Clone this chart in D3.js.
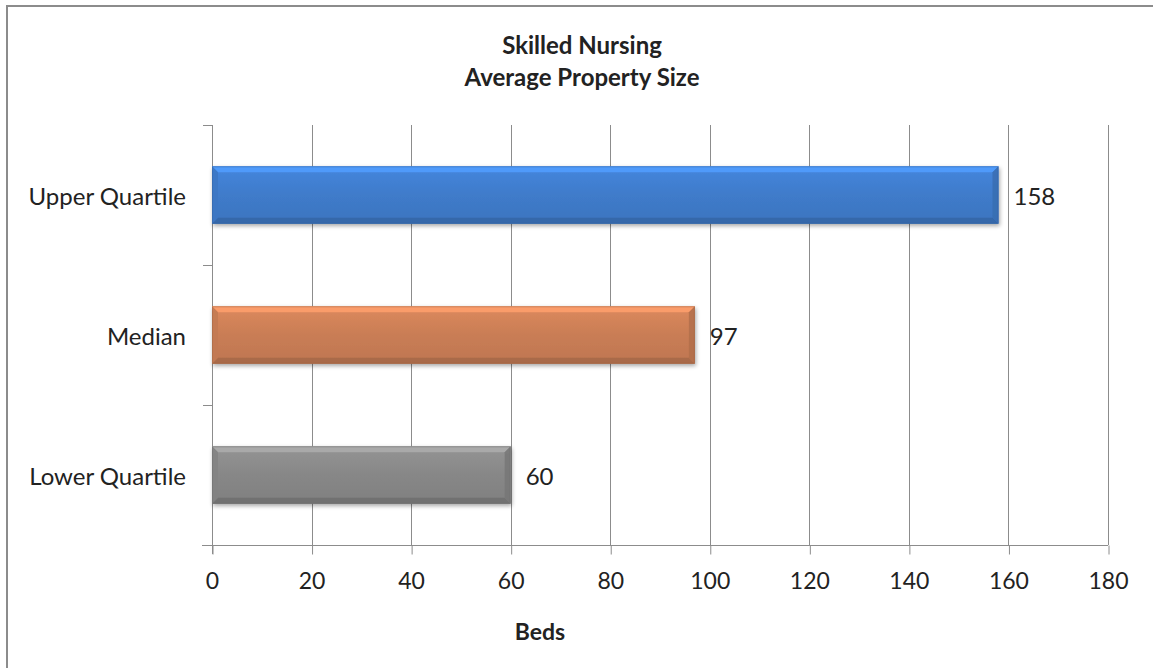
<!DOCTYPE html>
<html>
<head>
<meta charset="utf-8">
<script src="https://cdn.jsdelivr.net/npm/d3@7"></script>
<style>
  html, body { margin: 0; padding: 0; background: #fff; }
  svg { display: block; }
  text { font-family: Lato, "Open Sans", sans-serif; fill: #222; }
</style>
</head>
<body>
<svg id="chart" width="1153" height="668"></svg>
<script>
// Chart data
const categories = ["Upper Quartile", "Median", "Lower Quartile"];
const values = [158, 97, 60];
const barColors = ["#3f7bca", "#c97d55", "#878787"];
const xTicks = [0, 20, 40, 60, 80, 100, 120, 140, 160, 180];
const titleLines = ["Skilled Nursing", "Average Property Size"];
const xAxisTitle = "Beds";

const svg = d3.select("#chart");
const W = 1153, H = 668;
const plot = { left: 212, right: 1108, top: 125, bottom: 545 };

// Outer frame
svg.append("rect")
  .attr("x", 7).attr("y", 6).attr("width", W + 20).attr("height", H + 20)
  .attr("fill", "none").attr("stroke", "#8c8c8c").attr("stroke-width", 2);

const x = d3.scaleLinear().domain([0, 180]).range([plot.left, plot.right]);
const y = d3.scaleBand().domain(categories).range([plot.top, plot.bottom])
  .paddingInner(0.59).paddingOuter(0.295);

// Vertical gridlines
svg.append("g")
  .selectAll("line").data(xTicks.slice(1)).join("line")
  .attr("x1", d => Math.round(x(d)) + 0.5).attr("x2", d => Math.round(x(d)) + 0.5)
  .attr("y1", plot.top).attr("y2", plot.bottom)
  .attr("stroke", "#8c8c8c").attr("stroke-width", 1);

// X axis
const xAxis = svg.append("g")
  .attr("transform", `translate(0,${plot.bottom + 0.5})`)
  .call(d3.axisBottom(x).tickValues(xTicks).tickSize(9).tickPadding(18).tickSizeOuter(0));
xAxis.select(".domain").remove();
xAxis.append("line").attr("x1", plot.left - 10).attr("x2", plot.right).attr("y1", 0).attr("y2", 0)
  .attr("stroke", "#8c8c8c");
xAxis.selectAll(".tick line").attr("stroke", "#8c8c8c")
  .attr("transform", "translate(0.5,0)");
xAxis.selectAll(".tick text")
  .style("font-family", "Lato, sans-serif").style("font-size", "23px").attr("fill", "#222");

// Y axis with category boundary ticks
const yAxisG = svg.append("g");
yAxisG.append("line")
  .attr("x1", plot.left + 0.5).attr("x2", plot.left + 0.5)
  .attr("y1", plot.top).attr("y2", plot.bottom + 9)
  .attr("stroke", "#8c8c8c");
const step = y.step();
const boundaries = d3.range(categories.length + 1).map(i => plot.top + i * step);
yAxisG.selectAll("line.tk").data(boundaries).join("line")
  .attr("class", "tk")
  .attr("x1", plot.left - 9).attr("x2", plot.left)
  .attr("y1", d => Math.round(d) + 0.5).attr("y2", d => Math.round(d) + 0.5)
  .attr("stroke", "#8c8c8c");
yAxisG.selectAll("text").data(categories).join("text")
  .attr("x", plot.left - 26)
  .attr("y", d => y(d) + y.bandwidth() / 2)
  .attr("text-anchor", "end").attr("dominant-baseline", "central")
  .style("font-size", "24px")
  .text(d => d);

// Gradients for bevelled bars
const defs = svg.append("defs");
function shade(c, k) { return d3.color(c).brighter(k).formatHex(); }
barColors.forEach((c, i) => {
  const g = defs.append("linearGradient").attr("id", "g" + i)
    .attr("x1", 0).attr("y1", 0).attr("x2", 0).attr("y2", 1);
  g.append("stop").attr("offset", "0%").attr("stop-color", shade(c, 0.25));
  g.append("stop").attr("offset", "50%").attr("stop-color", c);
  g.append("stop").attr("offset", "100%").attr("stop-color", shade(c, -0.15));
});
defs.append("filter").attr("id", "sh").attr("x", "-5%").attr("y", "-20%").attr("width", "110%").attr("height", "160%")
  .call(f => {
    f.append("feGaussianBlur").attr("in", "SourceAlpha").attr("stdDeviation", 2);
    f.append("feOffset").attr("dx", 1).attr("dy", 2).attr("result", "b");
    f.append("feComponentTransfer").call(t => t.append("feFuncA").attr("type", "linear").attr("slope", 0.35));
    f.append("feMerge").call(m => { m.append("feMergeNode"); m.append("feMergeNode").attr("in", "SourceGraphic"); });
  });

const bars = svg.append("g").selectAll("g").data(categories).join("g")
  .attr("filter", "url(#sh)");
const bev = 6;
bars.each(function(d, i) {
  const g = d3.select(this);
  const x0 = x(0), x1 = x(values[i]);
  const y0 = y(d), y1 = y(d) + y.bandwidth();
  const c = barColors[i];
  g.append("rect").attr("x", x0).attr("y", y0).attr("width", x1 - x0).attr("height", y1 - y0)
    .attr("fill", `url(#g${i})`);
  // bevel faces: top, bottom, left, right
  const faces = [
    [[x0, y0], [x1, y0], [x1 - bev, y0 + bev], [x0 + bev, y0 + bev], shade(c, 0.7)],
    [[x0, y1], [x1, y1], [x1 - bev, y1 - bev], [x0 + bev, y1 - bev], shade(c, -0.55)],
    [[x0, y0], [x0 + bev, y0 + bev], [x0 + bev, y1 - bev], [x0, y1], shade(c, -0.1)],
    [[x1, y0], [x1 - bev, y0 + bev], [x1 - bev, y1 - bev], [x1, y1], shade(c, -0.35)]
  ];
  faces.forEach(f => {
    g.append("polygon").attr("points", f.slice(0, 4).map(p => p.join(",")).join(" "))
      .attr("fill", f[4]).attr("opacity", 0.85);
  });
  g.append("rect").attr("x", x0 + 0.5).attr("y", y0 + 0.5).attr("width", x1 - x0 - 1).attr("height", y1 - y0 - 1)
    .attr("fill", "none").attr("stroke", shade(c, -0.6)).attr("stroke-opacity", 0.5);
});

// Value labels
svg.append("g").selectAll("text").data(categories).join("text")
  .attr("x", (d, i) => x(values[i]) + 15)
  .attr("y", d => y(d) + y.bandwidth() / 2)
  .attr("dominant-baseline", "central")
  .style("font-size", "24px")
  .text((d, i) => values[i]);

// Title
svg.append("text").attr("x", 582).attr("text-anchor", "middle")
  .style("font-size", "24px").style("font-weight", "bold")
  .selectAll("tspan").data(titleLines).join("tspan")
  .attr("x", 582).attr("y", (d, i) => 54 + i * 32).text(d => d);

// Axis title
svg.append("text").attr("x", 540).attr("y", 640).attr("text-anchor", "middle")
  .style("font-size", "23px").style("font-weight", "bold").text(xAxisTitle);
</script>
</body>
</html>
